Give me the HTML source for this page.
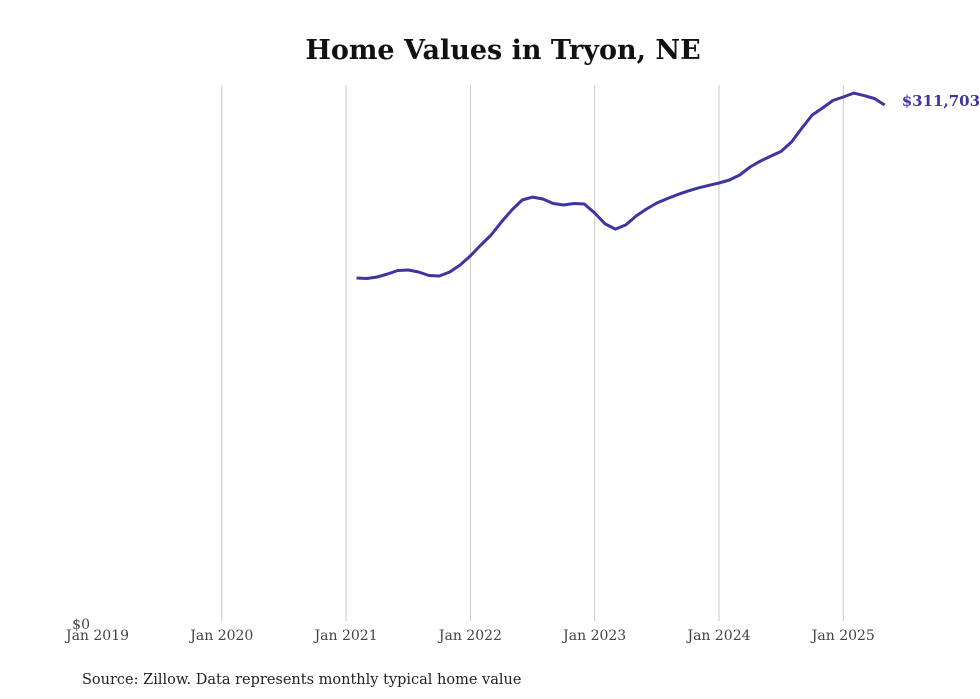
<!DOCTYPE html>
<html><head><meta charset="utf-8"><style>
body{margin:0;background:#fff;width:980px;height:699px;overflow:hidden}
svg{display:block}
text{font-family:"DejaVu Serif","Liberation Serif",serif}
</style></head><body>
<svg width="980" height="699" id="chart">
<text x="503" y="59" text-anchor="middle" font-size="27" font-weight="bold" fill="#111">Home Values in Tryon, NE</text>
<g id="grid"></g>
<g id="xlabels"></g>
<text x="90" y="629" text-anchor="end" font-size="14" fill="#444">$0</text>
<path id="line" fill="none" stroke="#3d35a0" stroke-width="3" stroke-linejoin="round"/>
<text id="endlabel" font-size="15" font-weight="bold" fill="#3d35a0"></text>
<text x="82" y="684" font-size="14.5" fill="#222">Source: Zillow. Data represents monthly typical home value</text>
</svg>
<script>
const tickYears = [2019, 2020, 2021, 2022, 2023, 2024, 2025];
const tickLabels = ["Jan 2019","Jan 2020","Jan 2021","Jan 2022","Jan 2023","Jan 2024","Jan 2025"];
const startYear = 2021, startMonth = 1; // Feb 2021 (0-based month)
const values = [207400,207100,208000,209800,211900,212200,211000,208900,208600,211000,215200,
220700,227300,233300,241200,248400,254400,256200,255000,252300,251400,252300,252000,
246600,240000,236900,239400,244800,249000,252600,255300,257700,259800,261700,263200,
264700,266500,269500,274300,277900,280900,283700,289400,297800,305700,309900,314400,
316500,318900,317400,315600,311703];
const x0 = 97.5, pxPerYear = 124.3, y0 = 622, yMax = 311703, yMaxPx = 105;
const xs = t => x0 + (t - 2019) * pxPerYear;
const ys = v => y0 - v * (y0 - yMaxPx) / yMax;
const NS = "http://www.w3.org/2000/svg";
const grid = document.getElementById('grid'), xl = document.getElementById('xlabels');
tickYears.forEach((yr, i) => {
  const x = xs(yr);
  if (i > 0) {
    const l = document.createElementNS(NS, 'line');
    
    
    l.setAttribute('x1', x); l.setAttribute('x2', x);
    l.setAttribute('y1', 85); l.setAttribute('y2', 621);
    l.setAttribute('stroke', '#c8c8c8'); l.setAttribute('stroke-width', 1);
    grid.appendChild(l);
  }
  const t = document.createElementNS(NS, 'text');
  
  
  t.setAttribute('x', x); t.setAttribute('y', 640);
  t.setAttribute('text-anchor', 'middle'); t.setAttribute('font-size', 14); t.setAttribute('fill', '#444');
  t.textContent = tickLabels[i];
  xl.appendChild(t);
});
let d = '';
values.forEach((v, i) => {
  const t = startYear + (startMonth + i) / 12;
  d += (i ? 'L' : 'M') + xs(t).toFixed(1) + ',' + ys(v).toFixed(1);
});
document.getElementById('line').setAttribute('d', d);
const last = values[values.length - 1];
const lt = startYear + (startMonth + values.length - 1) / 12;
const el = document.getElementById('endlabel');
el.setAttribute('x', xs(lt) + 17); el.setAttribute('y', ys(last) + 1);
el.textContent = '$' + last.toLocaleString('en-US');
</script>
</body></html>
